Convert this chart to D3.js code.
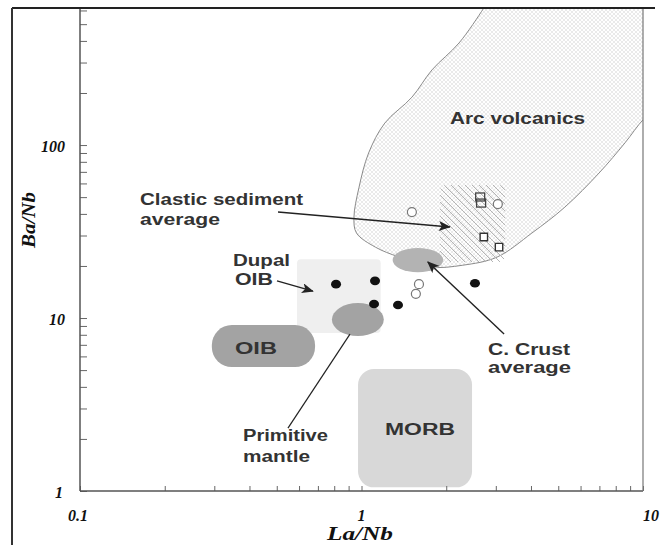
<!DOCTYPE html>
<html><head><meta charset="utf-8">
<script src="https://cdn.jsdelivr.net/npm/d3@7"></script>
<style>
body{margin:0;background:#fff;}
svg{display:block;}
.lbl{font-family:"Liberation Sans",Arial,sans-serif;font-weight:bold;font-size:16px;fill:#333;}
.tick{font-family:"Liberation Serif","Times New Roman",serif;font-weight:bold;font-style:italic;font-size:16px;fill:#111;}
.title{font-family:"Liberation Serif","Times New Roman",serif;font-weight:bold;font-style:italic;font-size:19px;fill:#111;}
</style></head>
<body><svg id="c" width="664" height="545"></svg>
<script>
// ---- data (La/Nb, Ba/Nb) ----
const xTickValues = [0.1, 1, 10];
const xTickLabels = ["0.1", "1", "10"];
const yTickValues = [1, 10, 100];
const yTickLabels = ["1", "10", "100"];

// boundary of the arc-volcanics field (open curve, the rest follows the frame)
const arcVolcanics = [[2.85,700],[2.72,620],[2.22,389],[1.78,272],[1.51,189],[1.21,134],[1.06,90],[0.98,57],[0.94,38],[0.96,31],
  [1.12,25.7],[1.36,22.5],[1.75,19.7],[2.29,20.2],[3.03,22.5],[4.03,31],[5.28,43.8],[6.98,68.9],[8.63,103],[10,140],[11,160]];
// fields: [xmin, xmax, ymin, ymax]
const clasticField = [1.90, 3.24, 21.1, 58.7];
const dupalField = [0.59, 1.17, 8.2, 21.9];
const oibField = [0.294, 0.684, 5.21, 9.11];
const morbField = [0.972, 2.47, 1.05, 5.07];
const primitiveMantle = [0.785, 1.2, 7.87, 12.2];
const crustAverage = [1.29, 1.95, 18.4, 25.4];

const filledCircles = [[0.812,15.7],[1.117,16.4],[1.108,12.05],[1.348,11.9],[2.53,15.9]];
const openCircles = [[1.51,41.0],[1.60,15.7],[1.56,13.8],[3.05,45.6]];
const openSquares = [[2.64,50.1],[2.66,46.2]];
const openDiamonds = [[2.72,29.4],[3.08,25.7]];

// annotation leader lines [from, to]
const clasticArrow = [[0.505,41.0],[2.06,33.6]];
const dupalArrow = [[0.501,16.4],[0.672,14.3]];
const crustArrow = [[3.21,8.08],[1.72,21.1]];
const mantleLine = [[0.548,2.31],[0.910,8.08]];

// ---- layout ----
const L = 80, R = 643, T = 8, B = 491;
const x = d3.scaleLog().domain([0.1, 10]).range([L, R]);
const y = d3.scaleLog().domain([1, 620]).range([B, T]);
const svg = d3.select("#c");
const defs = svg.append("defs");

// patterns
const hp = defs.append("pattern").attr("id","cross").attr("patternUnits","userSpaceOnUse").attr("width",4).attr("height",4);
hp.append("path").attr("d","M0,0L4,4M4,0L0,4").attr("stroke","#dcdcdc").attr("stroke-width",0.6);
const sp = defs.append("pattern").attr("id","stripe").attr("patternUnits","userSpaceOnUse").attr("width",7).attr("height",7);
sp.append("path").attr("d","M-1,-1L8,8M-8,-1L1,8M6,-1L15,8").attr("stroke","#b4b4b4").attr("stroke-width",1);
const mk = defs.append("marker").attr("id","arr").attr("viewBox","0 0 12 10").attr("refX",11).attr("refY",5)
  .attr("markerWidth",12).attr("markerHeight",10).attr("markerUnits","userSpaceOnUse").attr("orient","auto");
mk.append("path").attr("d","M0,0L12,5L0,10L3,5Z").attr("fill","#222");

svg.append("clipPath").attr("id","plotclip").append("rect").attr("x",L).attr("y",T).attr("width",R-L).attr("height",B-T);
const g = svg.append("g").attr("clip-path","url(#plotclip)");

// arc volcanics
const arcLine = d3.line().x(d=>x(d[0])).y(d=>y(d[1])).curve(d3.curveCatmullRom.alpha(0.5));
const arcD = arcLine(arcVolcanics);
g.append("path").attr("d", arcD + `L${x(11)},${y(700)}Z`).attr("fill","url(#cross)");
g.append("path").attr("d", arcD).attr("fill","none").attr("stroke","#8a8a8a").attr("stroke-width",1);

function rectField(f, fill, r){
  return g.append("rect").attr("x",x(f[0])).attr("y",y(f[3]))
    .attr("width",x(f[1])-x(f[0])).attr("height",y(f[2])-y(f[3]))
    .attr("rx",r).attr("ry",r).attr("fill",fill);
}
rectField(clasticField,"url(#stripe)",6);
rectField(dupalField,"#efefef",4);
rectField(oibField,"#a3a3a3",20);
rectField(morbField,"#d8d8d8",16);
function ellField(f, fill){
  g.append("ellipse").attr("cx",(x(f[0])+x(f[1]))/2).attr("cy",(y(f[2])+y(f[3]))/2)
   .attr("rx",(x(f[1])-x(f[0]))/2).attr("ry",(y(f[2])-y(f[3]))/2).attr("fill",fill);
}
ellField(primitiveMantle,"#a3a3a3");
ellField(crustAverage,"#b3b3b3");

// points
g.selectAll(".fc").data(filledCircles).join("ellipse").attr("cx",d=>x(d[0])).attr("cy",d=>y(d[1]))
  .attr("rx",5).attr("ry",4.3).attr("fill","#111");
g.selectAll(".oc").data(openCircles).join("circle").attr("cx",d=>x(d[0])).attr("cy",d=>y(d[1]))
  .attr("r",4.5).attr("fill","#fff").attr("stroke","#777").attr("stroke-width",1.2);
g.selectAll(".os").data(openSquares).join("rect").attr("x",d=>x(d[0])-4.5).attr("y",d=>y(d[1])-4)
  .attr("width",9).attr("height",8).attr("fill","none").attr("stroke","#444").attr("stroke-width",1.3);
g.selectAll(".od").data(openDiamonds).join("path")
  .attr("d",d3.symbol().type(d3.symbolDiamond2).size(70))
  .attr("transform",d=>`translate(${x(d[0])},${y(d[1])}) rotate(45)`)
  .attr("fill","#fff").attr("stroke","#333").attr("stroke-width",1.4);

// leader lines
const lead = d3.line().x(d=>x(d[0])).y(d=>y(d[1]));
svg.append("path").attr("d",lead(clasticArrow)).attr("stroke","#222").attr("stroke-width",1.4).attr("fill","none").attr("marker-end","url(#arr)");
svg.append("path").attr("d",lead(dupalArrow)).attr("stroke","#222").attr("stroke-width",1.4).attr("fill","none").attr("marker-end","url(#arr)");
svg.append("path").attr("d",lead(crustArrow)).attr("stroke","#222").attr("stroke-width",1.4).attr("fill","none").attr("marker-end","url(#arr)");
svg.append("path").attr("d",lead(mantleLine)).attr("stroke","#222").attr("stroke-width",1.2).attr("fill","none");

// labels (x, baseline, width)
function txt(s, px, py, w){
  svg.append("text").attr("class","lbl").attr("x",px).attr("y",py)
    .attr("textLength",w).attr("lengthAdjust","spacingAndGlyphs").text(s);
}
txt("Arc volcanics",450,124,135);
txt("Clastic sediment",140,205,163);
txt("average",140,225,80);
txt("Dupal",233,266,57);
txt("OIB",235,285,38);
txt("OIB",235,354,42);
txt("MORB",385,435,70);
txt("C. Crust",488,355,82);
txt("average",488,373,83);
txt("Primitive",243,441,85);
txt("mantle",243,462,67);

// axes (ticks inward)
const xAxis = d3.axisBottom(x).tickValues(d3.range(1,10).map(v=>v*0.1).concat(d3.range(1,11))).tickSize(-5).tickFormat("");
const yAxis = d3.axisLeft(y).tickValues(d3.range(1,10).concat(d3.range(10,100,10)).concat(d3.range(100,700,100))).tickSize(-7).tickFormat("");
const ga = svg.append("g").attr("transform",`translate(0,${B})`).call(xAxis);
const gy = svg.append("g").attr("transform",`translate(${L},0)`).call(yAxis);
[ga,gy].forEach(a=>{a.selectAll("line").attr("stroke","#666");a.select(".domain").remove();});
gy.selectAll(".tick").filter(d=>d>620).remove();
svg.append("line").attr("x1",L).attr("x2",L).attr("y1",T).attr("y2",B).attr("stroke","#555").attr("stroke-width",1.5);
svg.append("line").attr("x1",L).attr("x2",R).attr("y1",B).attr("y2",B).attr("stroke","#555").attr("stroke-width",1.5);
svg.append("line").attr("x1",R).attr("x2",R).attr("y1",T).attr("y2",B).attr("stroke","#777").attr("stroke-width",1.2);
// outer frame
svg.append("line").attr("x1",12).attr("x2",655).attr("y1",T).attr("y2",T).attr("stroke","#222").attr("stroke-width",2);
svg.append("line").attr("x1",12).attr("x2",12).attr("y1",T).attr("y2",545).attr("stroke","#333").attr("stroke-width",2);

// tick labels
svg.selectAll(".yl").data(yTickValues).join("text").attr("class","tick")
  .attr("x",d=>d===1?63:65).attr("y",d=>y(d)+1).attr("dy","0.35em").attr("text-anchor","end").text((d,i)=>yTickLabels[i]);
svg.selectAll(".xl").data(xTickValues).join("text").attr("class","tick")
  .attr("x",d=>d===0.1?x(d)-2:(d===10?x(d)+8:x(d))).attr("y",B+24).attr("dy","0.35em").attr("text-anchor","middle").text((d,i)=>xTickLabels[i]);

svg.append("text").attr("class","title").attr("x",327).attr("y",540)
  .attr("textLength",66).attr("lengthAdjust","spacingAndGlyphs").text("La/Nb");
svg.append("text").attr("class","title").attr("transform","translate(35,248) rotate(-90)")
  .attr("textLength",56).attr("lengthAdjust","spacingAndGlyphs").text("Ba/Nb");
</script></body></html>
